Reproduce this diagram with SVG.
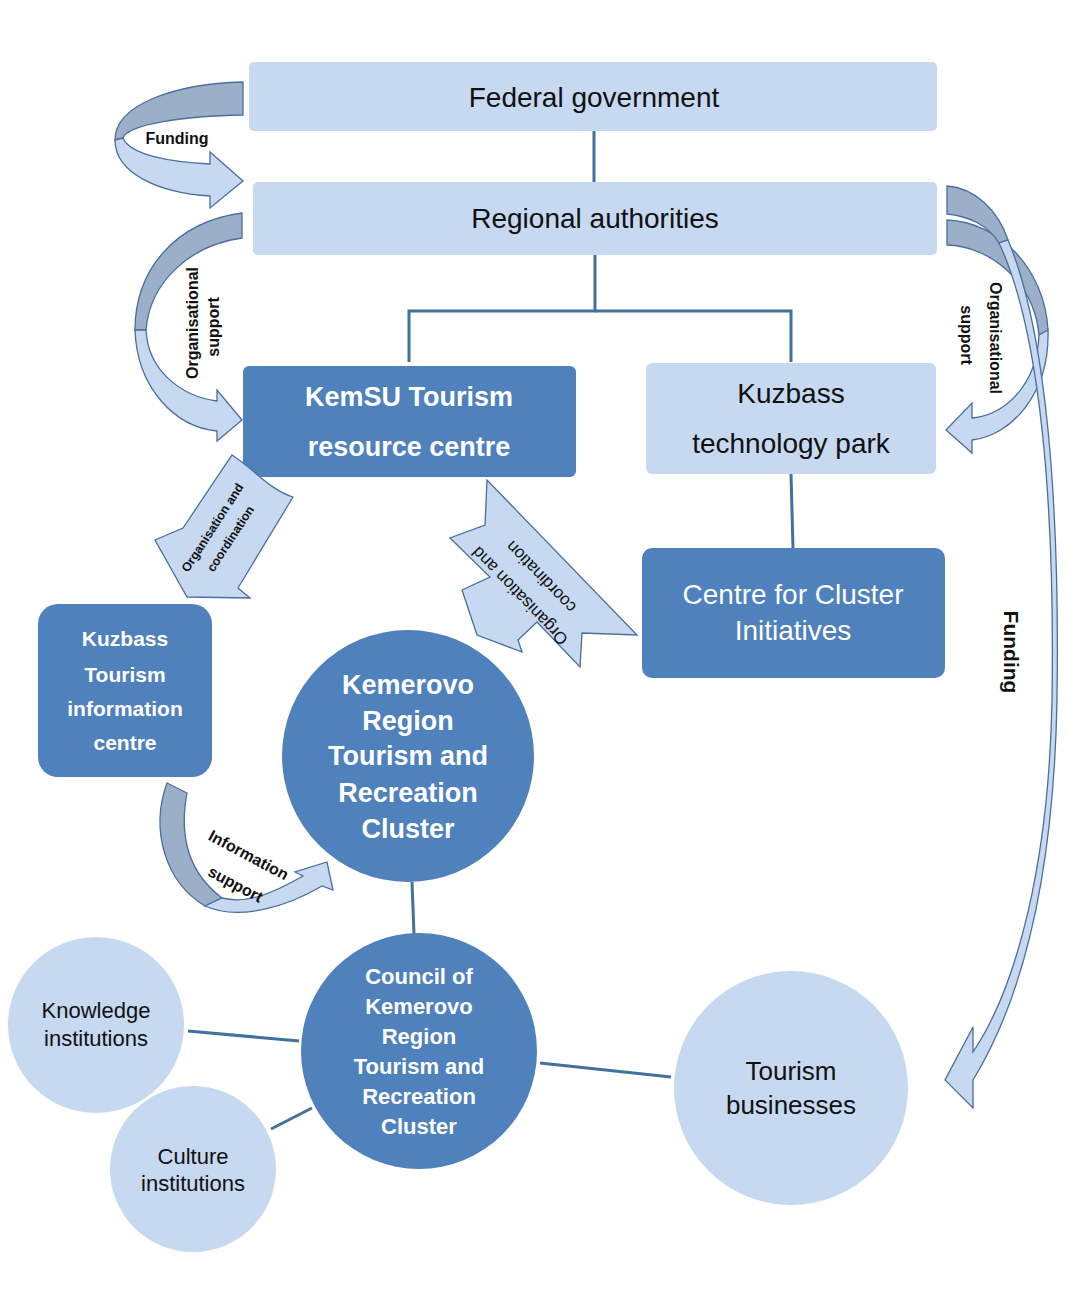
<svg xmlns="http://www.w3.org/2000/svg" width="1067" height="1291" viewBox="0 0 1067 1291">
<style>
.light{fill:#C6D9F1}
.dark{fill:#4F81BD}
.conn{stroke:#41719C;stroke-width:3;fill:none}
.back{fill:#9CAFC9;stroke:#4A6E9E;stroke-width:1.3}
.front{fill:#C6D9F1;stroke:#4A6E9E;stroke-width:1.3}
.t{font-family:"Liberation Sans",Arial,sans-serif;text-anchor:middle}
.dk{fill:#111}
.wt{fill:#fff}
.b{font-weight:bold}
</style>
<rect width="1067" height="1291" fill="#fff"/>
<g id="connectors">
<line class="conn" x1="594" y1="131" x2="594" y2="182"/>
<polyline class="conn" points="595,255 595,311 409,311 409,362"/>
<polyline class="conn" points="595,311 791,311 791,362"/>
<line class="conn" x1="791" y1="474" x2="793" y2="548"/>
<line class="conn" x1="412" y1="882" x2="414" y2="935"/>
<line class="conn" x1="188" y1="1031" x2="299" y2="1041"/>
<line class="conn" x1="271" y1="1129" x2="312" y2="1108"/>
<line class="conn" x1="540" y1="1063" x2="671" y2="1077"/>
</g>
<g id="federal">
<rect class="light" x="249" y="62" width="688" height="69" rx="5"/>
<text class="t dk" x="594" y="107" font-size="28">Federal government</text>
</g>
<g id="regional">
<rect class="light" x="253" y="182" width="684" height="73" rx="5"/>
<text class="t dk" x="595" y="228" font-size="28">Regional authorities</text>
</g>
<g id="kemsu">
<rect class="dark" x="243" y="366" width="333" height="111" rx="6"/>
<text class="t wt b" x="409" y="406" font-size="27">KemSU Tourism</text>
<text class="t wt b" x="409" y="456" font-size="27">resource centre</text>
</g>
<g id="technopark">
<rect class="light" x="646" y="363" width="290" height="111" rx="6"/>
<text class="t dk" x="791" y="403" font-size="28">Kuzbass</text>
<text class="t dk" x="791" y="453" font-size="28">technology park</text>
</g>
<g id="cci">
<rect class="dark" x="642" y="548" width="303" height="130" rx="10"/>
<text class="t wt" x="793" y="604" font-size="28">Centre for Cluster</text>
<text class="t wt" x="793" y="640" font-size="28">Initiatives</text>
</g>
<g id="kuzbass-info">
<rect class="dark" x="38" y="604" width="174" height="173" rx="20"/>
<text class="t wt b" x="125" y="646" font-size="21">Kuzbass</text>
<text class="t wt b" x="125" y="682" font-size="21">Tourism</text>
<text class="t wt b" x="125" y="716" font-size="21">information</text>
<text class="t wt b" x="125" y="750" font-size="21">centre</text>
</g>
<g id="cluster">
<circle class="dark" cx="408" cy="756" r="126"/>
<text class="t wt b" x="408" y="694" font-size="27">Kemerovo</text>
<text class="t wt b" x="408" y="730" font-size="27">Region</text>
<text class="t wt b" x="408" y="765" font-size="27">Tourism and</text>
<text class="t wt b" x="408" y="802" font-size="27">Recreation</text>
<text class="t wt b" x="408" y="838" font-size="27">Cluster</text>
</g>
<g id="council">
<circle class="dark" cx="419" cy="1051" r="118"/>
<text class="t wt b" x="419" y="984" font-size="22">Council of</text>
<text class="t wt b" x="419" y="1014" font-size="22">Kemerovo</text>
<text class="t wt b" x="419" y="1044" font-size="22">Region</text>
<text class="t wt b" x="419" y="1074" font-size="22">Tourism and</text>
<text class="t wt b" x="419" y="1104" font-size="22">Recreation</text>
<text class="t wt b" x="419" y="1134" font-size="22">Cluster</text>
</g>
<g id="knowledge">
<circle class="light" cx="96" cy="1025" r="88"/>
<text class="t dk" x="96" y="1018" font-size="22">Knowledge</text>
<text class="t dk" x="96" y="1046" font-size="22">institutions</text>
</g>
<g id="culture">
<circle class="light" cx="193" cy="1169" r="83"/>
<text class="t dk" x="193" y="1164" font-size="22">Culture</text>
<text class="t dk" x="193" y="1191" font-size="22">institutions</text>
</g>
<g id="businesses">
<circle class="light" cx="791" cy="1088" r="117"/>
<text class="t dk" x="791" y="1080" font-size="26">Tourism</text>
<text class="t dk" x="791" y="1114" font-size="26">businesses</text>
</g>
<g id="arrow-funding-top">
<path class="back" d="M243,82 C175,84 115,104 115,140 L123,138 C128,124 185,116 243,115 Z"/>
<path class="front" d="M115,140 C115,174 160,193 210,196 L210,208 L243,181 L210,152 L210,164 C170,162 130,155 123,138 Z"/>
<text class="t dk b" x="177" y="144" font-size="16">Funding</text>
</g>
<g id="arrow-org-left">
<path class="back" d="M242,213 C175,222 135,270 135,330 L146,330 C150,282 190,245 242,238 Z"/>
<path class="front" d="M135,330 C137,388 175,427 217,431 L217,441 L242,420 L217,390 L217,401 C180,396 148,370 146,330 Z"/>
<text class="t dk b" font-size="16" transform="translate(198,323) rotate(-90)">Organisational</text>
<text class="t dk b" font-size="16" transform="translate(219,327) rotate(-90)">support</text>
</g>
<g id="arrow-org-right">
<path class="back" d="M947,220 C1000,222 1045,270 1048,330 L1039,335 C1034,282 990,246 947,245 Z"/>
<path class="front" d="M1048,330 C1050,395 1010,436 972,440 L972,453 L946,430 L972,403 L972,418 C1005,415 1037,385 1039,335 Z"/>
<text class="t dk b" font-size="16" transform="translate(990,338) rotate(90)">Organisational</text>
<text class="t dk b" font-size="16" transform="translate(961,335) rotate(90)">support</text>
</g>
<g id="arrow-funding-right">
<path class="back" d="M947,186 C975,188 998,210 1008,240 L999,243 C988,225 968,216 947,214 Z"/>
<path class="front" d="M1008,240 C1046,330 1060,500 1057,700 C1054,860 1028,990 973,1080 L973,1108 L945,1080 L973,1027 L973,1052 C1018,985 1049,860 1052,700 C1055,500 1040,330 999,243 Z"/>
<text class="t dk b" font-size="21" transform="translate(1004,652) rotate(90)">Funding</text>
</g>
<g id="arrow-org-coord-left">
<path class="front" d="M232,455 C255,470 270,490 293,497 L238,588 L250,598 L187,597 L155,540 L183,528 Z"/>
<text class="t dk b" font-size="12.5" transform="translate(216,530) rotate(-57)">Organisation and</text>
<text class="t dk b" font-size="12.5" transform="translate(234,541) rotate(-57)">coordination</text>
</g>
<g id="arrow-org-coord-mid">
<path class="front" d="M487,480 L485,525 L450,538 L490,577 L462,590 L477,635 L522,652 L518,640 L537,622 L580,667 L582,633 L637,635 Z"/>
<text class="t dk" font-size="17" transform="translate(524,592) rotate(-134)">Organisation and</text>
<text class="t dk" font-size="17" transform="translate(545,573) rotate(-134)">coordination</text>
</g>
<g id="arrow-info">
<path class="back" d="M167,783 L187,793 C180,830 185,870 222,898 L205,906 C165,882 150,830 167,783 Z"/>
<path class="front" d="M205,906 C240,922 290,905 322,886 L333,890 L327,862 L295,872 L303,876 C270,895 245,904 222,898 Z"/>
<text class="t dk b" font-size="16" transform="translate(246,860) rotate(28)">Information</text>
<text class="t dk b" font-size="16" transform="translate(233,889) rotate(28)">support</text>
</g>
</svg>
